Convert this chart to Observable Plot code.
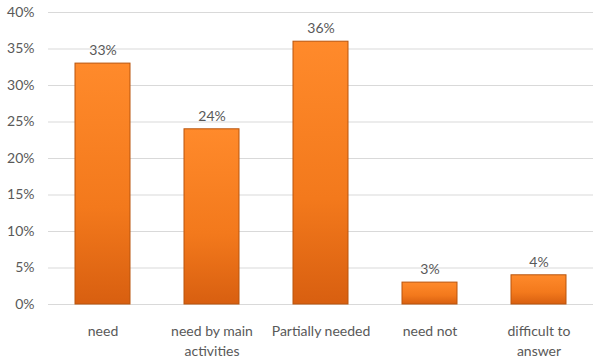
<!DOCTYPE html>
<html><head><meta charset="utf-8">
<script src="https://cdn.jsdelivr.net/npm/d3@7"></script>
<script src="https://cdn.jsdelivr.net/npm/@observablehq/plot@0.6"></script>
<style>body{margin:0;background:#fff;font-family:Lato,"Open Sans",sans-serif;}</style>
</head><body><div id="chart"></div>
<script>
const categories = ["need", "need by main activities", "Partially needed", "need not", "difficult to answer"];
const tickLabels = ["need", "need by main\nactivities", "Partially needed", "need not", "difficult to\nanswer"];
const values = [33, 24, 36, 3, 4];
const yTicks = [0, 5, 10, 15, 20, 25, 30, 35, 40];

const data = categories.map((c, i) => ({category: c, value: values[i]}));
const labelOf = new Map(categories.map((c, i) => [c, tickLabels[i]]));

const chart = Plot.plot({
  width: 598, height: 361,
  marginLeft: 48, marginRight: 5, marginTop: 12, marginBottom: 57,
  style: {fontFamily: "Lato, 'Open Sans', sans-serif", fontSize: "14px", color: "#595959", background: "#fff"},
  x: {domain: categories, paddingInner: 0.5, paddingOuter: 0.25, label: null},
  y: {domain: [0, 40], label: null},
  marks: [
    () => {
      const ns = "http://www.w3.org/2000/svg";
      const defs = document.createElementNS(ns, "defs");
      defs.innerHTML = `<linearGradient id="barGrad" x1="0" y1="0" x2="0" y2="1">
          <stop offset="0%" stop-color="#ff8a2b"/>
          <stop offset="60%" stop-color="#f3791c"/>
          <stop offset="100%" stop-color="#d85f10"/>
        </linearGradient>`;
      return defs;
    },
    Plot.gridY(yTicks, {stroke: "#d9d9d9", strokeOpacity: 1, strokeWidth: 1}),
    Plot.axisY(yTicks, {tickSize: 0, tickPadding: 14, tickFormat: d => d + "%", fontSize: 14, fill: "#595959"}),
    Plot.axisX({tickSize: 0, tickPadding: 17, tickFormat: d => labelOf.get(d), fontSize: 14, fill: "#595959", lineHeight: 1.45}),
    Plot.barY(data, {x: "category", y: "value", fill: "url(#barGrad)", stroke: "#b9540c", strokeWidth: 1}),
    Plot.text(data, {x: "category", y: "value", text: d => d.value + "%", dy: -13, fontSize: 14, fill: "#595959"})
  ]
});
document.getElementById("chart").append(chart);
</script></body></html>
